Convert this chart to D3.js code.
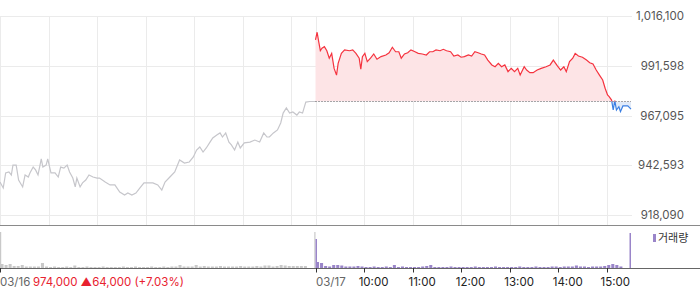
<!DOCTYPE html>
<html>
<head>
<meta charset="utf-8">
<script src="https://cdn.jsdelivr.net/npm/d3@7"></script>
<style>
  body { margin: 0; background: #fff; }
  svg { display: block; font-family: Inter, "Noto Sans", sans-serif; }
</style>
</head>
<body>
<div class="chart"></div>
<script>
// prev day (03/16) - minutes after 09:00 and price
const prevMinutes = [0,4,7,11,14,16,20,23,28,31,35,37,41,44,47,51,53,57,59,63,68,72,75,79,83,86,90,93,95,99,102,106,110,115,120,123,130,136,142,148,154,158,163,168,173,178,183,189,195,200,204,210,216,222,228,234,239,243,247,251,255,259,263,268,272,275,279,283,286,290,294,297,302,309,315,321,326,330,333,338,343,347,350,354,358,362,367,370,374,378,383,390];
const prevPrices = [934300,931400,938800,939300,937800,942700,942700,935300,931900,937800,936800,938800,941700,940300,937800,945700,941700,942700,945700,938800,938800,936800,941700,941200,942700,939300,936300,931900,936300,931900,933900,935300,937800,936800,936300,936300,934300,932900,932900,929400,927900,928900,927900,928900,931400,933900,933900,933900,932900,930400,934300,936800,939300,945200,943700,944200,946700,950100,951600,949100,951100,953600,956000,957500,958500,956500,958500,954000,952600,950100,954000,951100,953600,954000,955000,954000,958500,956500,956500,958500,960000,963400,968300,970800,968300,968800,967300,968800,968300,973700,974000,974000];

// today (03/17)
const curMinutes = [0,2,4,6,8,11,14,17,20,23,26,28,32,36,42,46,50,54,56,58,61,64,68,72,76,81,87,91,95,99,103,106,110,114,118,123,127,132,137,141,145,149,154,158,162,167,171,176,180,184,189,193,197,201,205,209,213,218,222,226,230,234,238,242,246,250,253,258,261,265,269,274,279,285,290,294,299,303,307,310,314,318,321,325,330,335,339,343,347,351,355,358,361,363,366,368,370,372,375,377,380,386,390];
const curPrices = [1004300,1008100,1003400,999000,1000200,1001000,999000,995300,997700,990300,987000,992800,997700,999400,999000,999400,997700,995300,989900,996100,997700,993600,995300,997400,994800,996100,996900,998000,1000700,998500,998500,995300,997400,998000,999400,998500,997700,997400,996900,998500,998500,999400,999000,999700,999000,998500,996400,996900,995800,996100,996900,996400,998500,998000,997400,996900,994400,992000,991100,992800,991100,992000,988700,990300,988700,990300,987000,991100,989500,988200,988200,989500,990300,991100,992000,994400,991500,989500,991100,988700,993600,995300,997700,996400,995800,994400,993100,992500,989500,987000,984600,980500,977200,976400,974700,969800,974400,969800,971400,969000,971800,971800,970200];

const prevClose = 974000;

// volume in 5 minute buckets
const prevVolume = [4000,3000,4000,2000,2000,3000,1500,1500,1500,1500,5000,1500,1000,1500,1000,1000,1500,1000,2500,1000,1000,1500,1000,1000,1000,1500,1000,1000,1000,1000,1500,1000,1000,1500,1000,1000,1000,1500,1000,1000,1500,1000,1500,1500,3000,1500,1500,1500,3000,1500,2000,1500,1500,1500,2000,1500,1500,1500,1500,2000,1500,1500,1500,2000,1500,2500,2500,1500,2000,3000,2500,2000,2000,2000,2000,2000,0,0];
const curVolume = [6000,5000,2000,1500,3000,3000,2500,1500,1500,1500,2000,1500,1000,1000,1500,1000,1000,1500,1000,3000,1000,1500,1000,1000,1000,1000,1500,2000,3000,1000,1000,1000,1000,1500,1000,1000,1000,1000,1000,1500,1000,1000,1000,1000,1500,1000,1000,1000,1000,1000,1500,1000,1000,1000,1500,1000,1000,1000,1500,1500,1000,1500,1500,1500,2500,1500,1500,1000,1500,1500,1500,2000,3000,4000,3000,1500,0,0];
// single auction bars: [prev open, prev close, today open, today close]
const auctionVolume = [36000, 36000, 29000, 35000];

const yTicks = [918090, 942593, 967095, 991598, 1016100];
const hourLabels = ["10:00", "11:00", "12:00", "13:00", "14:00", "15:00"];
const dayLabels = ["03/16", "03/17"];
const closeText = "974,000";
const changeText = "\u25B264,000 (+7.03%)";
const legendText = "거래량";

const width = 700, height = 289;
const plotRight = 631;

const RED = "#f5333f", BLUE = "#3b7fe3", GREY_LINE = "#c6c6cb", PURPLE = "#9a85c9";

const svg = d3.select(".chart").append("svg")
  .attr("width", width)
  .attr("height", height);

// x runs over both sessions: 0..390 prev day, 390..780 today
const x = d3.scaleLinear().domain([0, 780]).range([0, plotRight]);
const y = d3.scaleLinear().domain([918090, 1016100]).range([215, 16]);
const yVol = d3.scaleLinear().domain([0, 38000]).range([268, 230]);

const crisp = (v) => Math.round(v) + 0.5;

// grid
const grid = svg.append("g").attr("class", "grid");
grid.selectAll("line.h")
  .data(yTicks)
  .enter().append("line")
  .attr("x1", 0).attr("x2", plotRight + 1)
  .attr("y1", (d) => crisp(y(d))).attr("y2", (d) => crisp(y(d)));

const gridMinutes = d3.range(0, 7).map((h) => h * 60).concat(d3.range(0, 7).map((h) => 390 + h * 60));
grid.selectAll("line.v")
  .data(gridMinutes)
  .enter().append("line")
  .attr("x1", (d) => crisp(x(d))).attr("x2", (d) => crisp(x(d)))
  .attr("y1", crisp(y(1016100))).attr("y2", 225);
grid.selectAll("line").attr("stroke", "#ebebeb").attr("stroke-width", 1);

// y labels
svg.append("g").selectAll("text")
  .data(yTicks)
  .enter().append("text")
  .attr("x", 684)
  .attr("y", (d) => y(d))
  .attr("dy", "0.36em")
  .attr("text-anchor", "end")
  .attr("font-size", "11.5px")
  .attr("fill", "#555")
  .text((d) => d3.format(",")(d));

const prevData = prevMinutes.map((m, i) => ({ t: m, v: prevPrices[i] }));
const curData = curMinutes.map((m, i) => ({ t: 390 + m, v: curPrices[i] }));

const line = d3.line().x((d) => x(d.t)).y((d) => y(d.v));
const area = d3.area().x((d) => x(d.t)).y0(y(prevClose)).y1((d) => y(d.v));

// prev day line
svg.append("path")
  .attr("d", line(prevData))
  .attr("fill", "none")
  .attr("stroke", GREY_LINE)
  .attr("stroke-width", 1.2);

// clips above / below prev close
const defs = svg.append("defs");
defs.append("clipPath").attr("id", "above")
  .append("rect").attr("x", 0).attr("y", 0).attr("width", width).attr("height", y(prevClose));
defs.append("clipPath").attr("id", "below")
  .append("rect").attr("x", 0).attr("y", y(prevClose)).attr("width", width).attr("height", 225 - y(prevClose));

svg.append("path").attr("d", area(curData)).attr("fill", "#fde4e6").attr("clip-path", "url(#above)");
svg.append("path").attr("d", area(curData)).attr("fill", "#e2ebf9").attr("clip-path", "url(#below)");

svg.append("line")
  .attr("x1", x(390)).attr("x2", plotRight)
  .attr("y1", crisp(y(prevClose))).attr("y2", crisp(y(prevClose)))
  .attr("stroke", "#555")
  .attr("stroke-dasharray", "1,2");

svg.append("path").attr("d", line(curData)).attr("fill", "none")
  .attr("stroke", RED).attr("stroke-width", 1.2).attr("clip-path", "url(#above)");
svg.append("path").attr("d", line(curData)).attr("fill", "none")
  .attr("stroke", BLUE).attr("stroke-width", 1.2).attr("clip-path", "url(#below)");

// separator between price and volume
svg.append("line")
  .attr("x1", 0).attr("x2", width)
  .attr("y1", 225.5).attr("y2", 225.5)
  .attr("stroke", "#8a8a8a");

// volume bars
const volData = prevVolume.map((v, k) => ({ t: k * 5, w: 5, v: v, day: 0 }))
  .concat(curVolume.map((v, k) => ({ t: 390 + k * 5, w: 5, v: v, day: 1 })));

svg.append("g").selectAll("rect")
  .data(volData.filter((d) => d.v > 0))
  .enter().append("rect")
  .attr("x", (d) => x(d.t) + 0.5)
  .attr("width", (d) => x(d.t + d.w) - x(d.t) - 1)
  .attr("y", (d) => yVol(d.v))
  .attr("height", (d) => yVol(0) - yVol(d.v))
  .attr("fill", (d) => (d.day === 0 ? "#c9c9c9" : PURPLE));

const auctionBars = [
  { x0: x(0), x1: x(0) + 1.2, v: auctionVolume[0], c: "#c9c9c9" },
  { x0: x(390) - 1.2, x1: x(390), v: auctionVolume[1], c: "#c9c9c9" },
  { x0: x(390), x1: x(390) + 1.5, v: auctionVolume[2], c: PURPLE },
  { x0: x(780) - 1.5, x1: x(780), v: auctionVolume[3], c: PURPLE }
];
svg.append("g").selectAll("rect")
  .data(auctionBars)
  .enter().append("rect")
  .attr("x", (d) => d.x0)
  .attr("width", (d) => d.x1 - d.x0)
  .attr("y", (d) => yVol(d.v))
  .attr("height", (d) => yVol(0) - yVol(d.v))
  .attr("fill", (d) => d.c);

// bottom axis
svg.append("line")
  .attr("x1", 0).attr("x2", width)
  .attr("y1", 268.5).attr("y2", 268.5)
  .attr("stroke", "#666");

const tickMinutes = [0, 390].concat(d3.range(1, 7).map((h) => 390 + h * 60));
svg.append("g").selectAll("line")
  .data(tickMinutes)
  .enter().append("line")
  .attr("x1", (d) => crisp(x(d))).attr("x2", (d) => crisp(x(d)))
  .attr("y1", 268).attr("y2", 272.5)
  .attr("stroke", "#333");

// hour labels sit a little right of their tick, last one kept inside the plot
svg.append("g").selectAll("text")
  .data(hourLabels)
  .enter().append("text")
  .attr("x", (d, i) => (i === hourLabels.length - 1 ? plotRight - 1 : x(390 + (i + 1) * 60) + 9.5))
  .attr("y", 286)
  .attr("text-anchor", (d, i) => (i === hourLabels.length - 1 ? "end" : "middle"))
  .attr("font-size", "11.5px")
  .attr("fill", "#222")
  .text((d) => d);

svg.append("g").selectAll("text")
  .data(dayLabels)
  .enter().append("text")
  .attr("x", (d, i) => x(i * 390) + (i === 0 ? 0 : 0.5))
  .attr("y", 286)
  .attr("font-size", "11.5px")
  .attr("fill", "#666")
  .text((d) => d);

const closeLabel = svg.append("text")
  .attr("x", 33)
  .attr("y", 286)
  .attr("font-size", "11.5px")
  .attr("fill", "#e8222f");
closeLabel.append("tspan").text(closeText);
closeLabel.append("tspan").attr("dx", 3).text(changeText);

// legend
svg.append("rect")
  .attr("x", 653).attr("y", 234)
  .attr("width", 3).attr("height", 8)
  .attr("fill", PURPLE);
svg.append("text")
  .attr("x", 658).attr("y", 242)
  .attr("font-size", "11px")
  .attr("font-family", "'Noto Sans CJK KR', sans-serif")
  .attr("fill", "#333")
  .text(legendText);
</script>
</body>
</html>
